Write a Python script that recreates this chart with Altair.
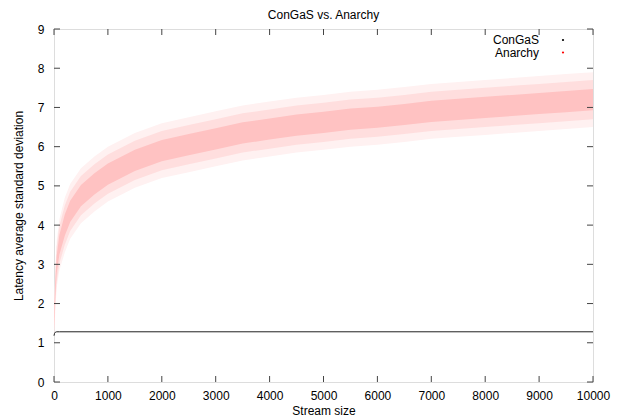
import altair as alt
import pandas as pd

# ---- data ----
anarchy_x = [0, 25, 50, 100, 200, 300, 500, 750, 1000, 1500, 2000, 2500, 3000, 3500,
             4000, 4500, 5000, 5500, 6000, 6500, 7000, 7500, 8000, 8500, 9000, 9500, 10000]
anarchy_mid = [1.5, 2.4, 3.0, 3.5, 4.0, 4.35, 4.75, 5.05, 5.3, 5.65, 5.9, 6.05, 6.2, 6.35,
               6.45, 6.55, 6.62, 6.7, 6.75, 6.82, 6.9, 6.95, 7.0, 7.05, 7.1, 7.15, 7.2]
anarchy_core = [0.15, 0.2, 0.22, 0.25, 0.27, 0.27, 0.27, 0.27, 0.27, 0.27, 0.27, 0.27, 0.27, 0.27,
                0.27, 0.27, 0.27, 0.27, 0.27, 0.27, 0.27, 0.27, 0.27, 0.27, 0.27, 0.27, 0.27]
anarchy_outer = [0.3, 0.4, 0.45, 0.48, 0.5, 0.5, 0.5, 0.5, 0.5, 0.5, 0.5, 0.5, 0.5, 0.5,
                 0.5, 0.5, 0.5, 0.5, 0.5, 0.5, 0.5, 0.5, 0.5, 0.5, 0.5, 0.5, 0.5]
anarchy_fringe = [0.4, 0.55, 0.6, 0.65, 0.7, 0.7, 0.7, 0.7, 0.7, 0.7, 0.7, 0.7, 0.7, 0.7,
                  0.7, 0.7, 0.7, 0.7, 0.7, 0.7, 0.7, 0.7, 0.7, 0.7, 0.7, 0.7, 0.7]

congas_x = [0, 10, 25, 50, 100, 10000]
congas_y = [1.18, 1.24, 1.27, 1.28, 1.28, 1.28]

x_ticks = [0, 1000, 2000, 3000, 4000, 5000, 6000, 7000, 8000, 9000, 10000]
y_ticks = [0, 1, 2, 3, 4, 5, 6, 7, 8, 9]
series = ["ConGaS", "Anarchy"]
series_colors = ["#000000", "#ff0000"]

W, H = 539, 353
FONT = "Liberation Sans"
AXC = "#444444"

band = pd.DataFrame({
    "x": anarchy_x,
    "flo": [m - o for m, o in zip(anarchy_mid, anarchy_fringe)],
    "fhi": [m + o for m, o in zip(anarchy_mid, anarchy_fringe)],
    "olo": [m - o for m, o in zip(anarchy_mid, anarchy_outer)],
    "ohi": [m + o for m, o in zip(anarchy_mid, anarchy_outer)],
    "clo": [m - c for m, c in zip(anarchy_mid, anarchy_core)],
    "chi": [m + c for m, c in zip(anarchy_mid, anarchy_core)],
})
congas = pd.DataFrame({"x": congas_x, "y": congas_y})
xt = pd.DataFrame({"v": x_ticks})
yt = pd.DataFrame({"v": y_ticks})

xs = alt.Scale(domain=[0, 10000], nice=False, zero=False)
ys = alt.Scale(domain=[0, 9], nice=False, zero=False)

x_axis = alt.Axis(values=x_ticks, tickSize=0, domain=False, grid=False, labelPadding=8,
                  labelOverlap=False, labelFlush=False,
                  labelFont=FONT, labelFontSize=12, labelColor="#000", title="Stream size",
                  titleFont=FONT, titleFontSize=12, titleFontWeight="normal", titleColor="#000",
                  titlePadding=4, format="d")
y_axis = alt.Axis(values=y_ticks, tickSize=0, domain=False, grid=False, labelPadding=10,
                  labelOverlap=False, labelFlush=False,
                  labelFont=FONT, labelFontSize=12, labelColor="#000",
                  title="Latency average standard deviation",
                  titleFont=FONT, titleFontSize=12, titleFontWeight="normal", titleColor="#000",
                  titlePadding=12)


def X(f):
    return alt.X(f, scale=xs, axis=x_axis)


def Y(f):
    return alt.Y(f, scale=ys, axis=y_axis)


fringe = alt.Chart(band).mark_area(color="#fff1f1").encode(x=X("x:Q"), y=Y("flo:Q"), y2="fhi:Q")
outer = alt.Chart(band).mark_area(color="#ffdede").encode(x=X("x:Q"), y=Y("olo:Q"), y2="ohi:Q")
core = alt.Chart(band).mark_area(color="#ffc2c2").encode(x=X("x:Q"), y=Y("clo:Q"), y2="chi:Q")
line = alt.Chart(congas).mark_line(color="#222222", strokeWidth=1).encode(x=X("x:Q"), y=Y("y:Q"))

tl = 6
tick_b = alt.Chart(xt).mark_rule(color=AXC).encode(x=X("v:Q"), y=alt.value(H), y2=alt.value(H - tl))
tick_t = alt.Chart(xt).mark_rule(color=AXC).encode(x=X("v:Q"), y=alt.value(0), y2=alt.value(tl))
tick_l = alt.Chart(yt).mark_rule(color=AXC).encode(y=Y("v:Q"), x=alt.value(0), x2=alt.value(tl))
tick_r = alt.Chart(yt).mark_rule(color=AXC).encode(y=Y("v:Q"), x=alt.value(W), x2=alt.value(W - tl))

legend_layers = []
for i, (name, col) in enumerate(zip(series, series_colors)):
    yy = 11 + 12.5 * i
    legend_layers.append(
        alt.Chart(pd.DataFrame({"name": [name]})).mark_text(
            align="right", baseline="middle", font=FONT, fontSize=12, color="#000"
        ).encode(text="name:N", x=alt.value(485), y=alt.value(yy))
    )
    legend_layers.append(
        alt.Chart(pd.DataFrame({"name": [name]})).mark_point(
            filled=True, size=5, opacity=1, shape="circle", color=col
        ).encode(x=alt.value(509), y=alt.value(yy))
    )

chart = alt.layer(fringe, outer, core, line, tick_b, tick_t, tick_l, tick_r, *legend_layers).properties(
    width=W, height=H,
    title=alt.TitleParams("ConGaS vs. Anarchy", font=FONT, fontSize=12, fontWeight="normal",
                          color="#000", offset=1, anchor="middle"),
    autosize=alt.AutoSizeParams(type="none"),
    padding={"left": 46, "top": 21, "right": 25, "bottom": 38},
).configure_view(stroke=AXC, strokeWidth=1).configure(background="white")

chart.save("out.html", embed_options={"renderer": "svg", "actions": False})
